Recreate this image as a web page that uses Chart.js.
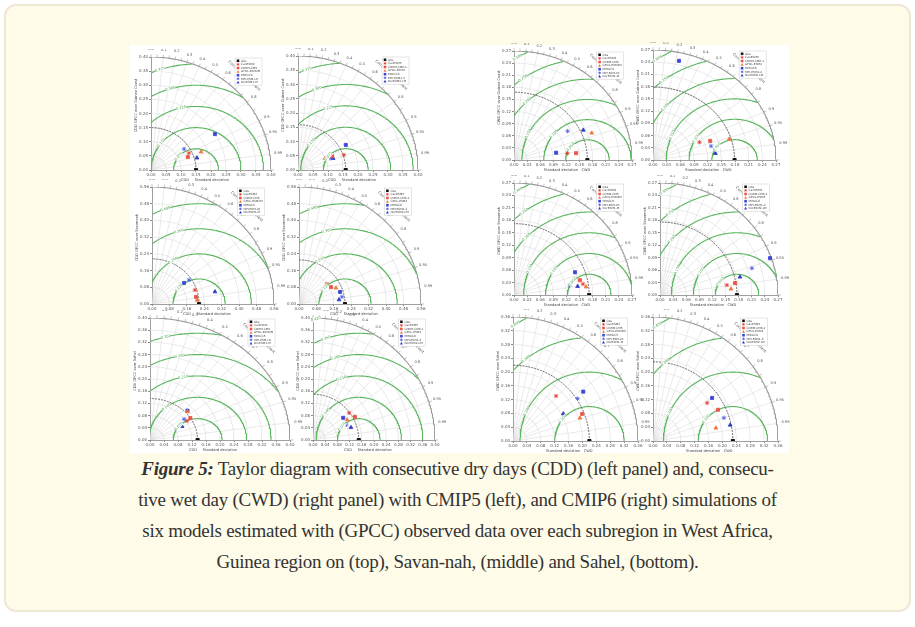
<!DOCTYPE html>
<html>
<head>
<meta charset="utf-8">
<script src="https://cdn.jsdelivr.net/npm/chart.js@4.4.1/dist/chart.umd.min.js"></script>
<style>
    html, body { margin: 0; padding: 0; background: #fff; }
    #card { position: absolute; left: 4px; top: 4px; width: 907px; height: 608px; box-sizing: border-box;
            border: 2px solid #eee8d2; border-radius: 12px; background: #fffbe9; }
    #fig { position: absolute; left: 130px; top: 45px; width: 659px; height: 408px; background: #fff; }
    canvas { position: absolute; }
    #caption { position: absolute; left: 0; top: 453px; width: 915px; text-align: center; white-space: nowrap;
               font-family: "Liberation Serif", serif; font-size: 19px; letter-spacing: -0.25px;
               line-height: 31px; color: #333; }
</style>
</head>
<body>
<div id="card"></div>
<div id="fig"></div>
<div id="caption">
    <b><i>Figure 5:</i></b> Taylor diagram with consecutive dry days (CDD) (left panel) and, consecu-<br>
    tive wet day (CWD) (right panel) with CMIP5 (left), and CMIP6 (right) simulations of<br>
    six models estimated with (GPCC) observed data over each subregion in West Africa,<br>
    Guinea region on (top), Savan-nah, (middle) and Sahel, (bottom).
</div>
<script>
// models and markers
const cmip5Models = ['CanESM2', 'CNRM-CM5', 'GFDL-ESM2M', 'MIROC5', 'MPI-ESM-LR', 'NorESM1-M'];
const cmip6Models = ['CanESM5', 'CNRM-CM6-1', 'GFDL-ESM4', 'MIROC6', 'MPI-ESM1-2', 'NorESM2-LM'];
const modelColors = ['#e3372d', '#ec5346', '#f0763a', '#3b45d6', '#4d5ce6', '#2b3bc4'];
const modelMarkers = ['star', 'rect', 'triangle', 'rect', 'star', 'triangle'];
const corrTicks = [0.1, 0.2, 0.3, 0.4, 0.5, 0.6, 0.7, 0.8, 0.9, 0.95, 0.99];
const corrLabels = [0, 0.1, 0.2, 0.3, 0.4, 0.5, 0.6, 0.7, 0.8, 0.9, 0.95, 0.99];

// CDD - standard deviation and correlation of each model
const cddGuinea5Std = [0.140, 0.131, 0.179, 0.248, 0.133, 0.159];
const cddGuinea5Corr = [0.904, 0.937, 0.933, 0.859, 0.830, 0.963];
const cddGuinea6Std = [0.162, 0.124, 0.099, 0.182, 0.117, 0.124];
const cddGuinea6Corr = [0.945, 0.919, 0.910, 0.875, 0.937, 0.944];
const cddSavanna5Std = [0.208, 0.205, 0.208, 0.178, 0.205, 0.295];
const cddSavanna5Corr = [0.947, 0.986, 0.996, 0.826, 0.829, 0.980];
const cddSavanna6Std = [0.160, 0.168, 0.186, 0.197, 0.200, 0.185];
const cddSavanna6Corr = [0.800, 0.876, 0.911, 0.956, 0.985, 0.994];
const cddSahel5Std = [0.123, 0.136, 0.142, 0.144, 0.119, 0.102];
const cddSahel5Corr = [0.860, 0.848, 0.755, 0.744, 0.820, 0.900];
const cddSahel6Std = [0.148, 0.157, 0.130, 0.123, 0.120, 0.131];
const cddSahel6Corr = [0.800, 0.875, 0.860, 0.806, 0.910, 0.950];

// CWD
const cwdGuinea5Std = [0.123, 0.143, 0.190, 0.098, 0.142, 0.175];
const cwdGuinea5Corr = [0.991, 0.993, 0.936, 0.983, 0.864, 0.906];
const cwdGuinea6Std = [0.111, 0.134, 0.175, 0.250, 0.132, 0.138];
const cwdGuinea6Corr = [0.920, 0.937, 0.956, 0.228, 0.966, 0.993];
const cwdSavanna5Std = [0.160, 0.155, 0.166, 0.150, 0.130, 0.147];
const cwdSavanna5Corr = [0.986, 0.973, 0.993, 0.931, 0.983, 0.990];
const cwdSavanna6Std = [0.155, 0.174, 0.163, 0.267, 0.220, 0.188];
const cwdSavanna6Corr = [0.988, 0.986, 0.996, 0.943, 0.956, 0.973];
const cwdSahel5Std = [0.180, 0.214, 0.204, 0.248, 0.223, 0.165];
const cwdSahel5Corr = [0.688, 0.930, 0.945, 0.816, 0.834, 0.878];
const cwdSahel6Std = [0.191, 0.208, 0.185, 0.211, 0.215, 0.227];
const cwdSahel6Corr = [0.816, 0.900, 0.979, 0.806, 0.950, 0.979];

// per panel: observed std, axis max, tick step, rmsd step
const obsStd = [0.150, 0.159, 0.216, 0.211, 0.136, 0.150, 0.168, 0.179, 0.172, 0.176, 0.220, 0.230];
const axisMax = [0.40, 0.40, 0.56, 0.56, 0.40, 0.40, 0.27, 0.27, 0.27, 0.27, 0.36, 0.36];
const tickStep = [0.05, 0.05, 0.08, 0.08, 0.04, 0.04, 0.03, 0.03, 0.03, 0.03, 0.04, 0.04];
const rmsStep = [0.075, 0.075, 0.12, 0.12, 0.07, 0.07, 0.05, 0.05, 0.05, 0.05, 0.1, 0.1];

const stdSets = [cddGuinea5Std, cddGuinea6Std, cddSavanna5Std, cddSavanna6Std, cddSahel5Std, cddSahel6Std,
                 cwdGuinea5Std, cwdGuinea6Std, cwdSavanna5Std, cwdSavanna6Std, cwdSahel5Std, cwdSahel6Std];
const corrSets = [cddGuinea5Corr, cddGuinea6Corr, cddSavanna5Corr, cddSavanna6Corr, cddSahel5Corr, cddSahel6Corr,
                  cwdGuinea5Corr, cwdGuinea6Corr, cwdSavanna5Corr, cwdSavanna6Corr, cwdSahel5Corr, cwdSahel6Corr];
const regionNames = ['Guinea Coast', 'Guinea Coast', 'Savannah', 'Savannah', 'Sahel', 'Sahel',
                     'Guinea Coast', 'Guinea Coast', 'Savannah', 'Savannah', 'Sahel', 'Sahel'];

// layout: origin x, origin y, plot width, plot height (page pixels)
const layout = [
    [151, 170, 120, 113], [298, 170, 120, 114],
    [152, 304, 122, 117], [299, 304, 122, 117],
    [150, 440, 140, 122], [313, 440, 122, 122],
    [514, 160, 118, 109], [653, 160, 123, 110],
    [514, 295, 118, 112], [660, 295, 118, 112],
    [513, 441, 125, 124], [653, 441, 125, 124]
];

const AXIS_W = 18, AXIS_H = 13, PAD_T = 8, PAD_R = 14;

function toXY(s, c) {
    return { x: s * c, y: s * Math.sqrt(1 - c * c) };
}

function arcPoints(cx, r, max) {
    const pts = [];
    for (let i = 0; i <= 240; i++) {
        const t = Math.PI * i / 240;
        const x = cx + r * Math.cos(t), y = r * Math.sin(t);
        if (x >= -1e-9 && x * x + y * y <= max * max * 1.0001) pts.push({ x, y });
    }
    return pts;
}

function line(data, color, width, dash) {
    return { data, showLine: true, pointRadius: 0, borderColor: color, borderWidth: width,
             borderDash: dash || [], fill: false, tension: 0 };
}

function drawMarker(ctx, style, x, y, r, color) {
    ctx.fillStyle = color;
    ctx.strokeStyle = color;
    ctx.lineWidth = 0.7;
    ctx.beginPath();
    if (style === 'rect') {
        ctx.fillRect(x - r, y - r, 2 * r, 2 * r);
    } else if (style === 'triangle') {
        ctx.moveTo(x, y - r * 1.2);
        ctx.lineTo(x + r * 1.1, y + r * 0.8);
        ctx.lineTo(x - r * 1.1, y + r * 0.8);
        ctx.closePath();
        ctx.fill();
    } else {
        for (let k = 0; k < 4; k++) {
            const a = k * Math.PI / 4;
            ctx.moveTo(x - r * Math.cos(a), y - r * Math.sin(a));
            ctx.lineTo(x + r * Math.cos(a), y + r * Math.sin(a));
        }
        ctx.stroke();
    }
}

function makePanel(i) {
    const [ox, oy, rx, ry] = layout[i];
    const max = axisMax[i], obs = obsStd[i];
    const isCdd = i < 6;
    const models = (i % 2 === 0) ? cmip5Models : cmip6Models;
    const varName = isCdd ? 'CDD' : 'CWD';

    const canvas = document.createElement('canvas');
    canvas.width = AXIS_W + rx + PAD_R;
    canvas.height = PAD_T + ry + AXIS_H;
    canvas.style.left = (ox - AXIS_W) + 'px';
    canvas.style.top = (oy - ry - PAD_T) + 'px';
    document.body.appendChild(canvas);

    const datasets = [];
    // model points
    stdSets[i].forEach((s, m) => {
        datasets.push({ data: [toXY(s, corrSets[i][m])], pointStyle: modelMarkers[m], pointRadius: 2.2,
                        backgroundColor: modelColors[m], borderColor: modelColors[m], borderWidth: 0.8 });
    });
    datasets.push({ data: [{ x: obs, y: 0 }], pointStyle: 'rect', pointRadius: 2.2,
                    backgroundColor: '#111', borderColor: '#111' });

    // observed std arc
    datasets.push(line(arcPoints(0, obs, max), '#555', 0.9, [2, 1]));
    // rmsd arcs
    const rmsArcs = [];
    for (let k = 1; k * rmsStep[i] < max + obs; k++) {
        const pts = arcPoints(obs, k * rmsStep[i], max);
        if (pts.length > 2) {
            rmsArcs.push({ r: k * rmsStep[i], pts });
            datasets.push(line(pts, '#5cb65f', 1.1));
        }
    }
    // outer arc
    datasets.push(line(arcPoints(0, max, max), '#999', 1.1));
    // std grid arcs
    for (let s = tickStep[i]; s < max - 1e-6; s += tickStep[i]) {
        datasets.push(line(arcPoints(0, s, max), '#dcdcdc', 0.6));
    }
    // correlation rays
    corrTicks.forEach(c => {
        datasets.push(line([{ x: 0, y: 0 }, toXY(max, c)], '#dcdcdc', 0.6));
    });

    const tickFont = { size: 4, family: 'DejaVu Sans' };

    const taylorText = {
        id: 'taylorText',
        afterDraw(chart) {
            const ctx = chart.ctx;
            const xs = chart.scales.x, ys = chart.scales.y;
            const P = (x, y) => [xs.getPixelForValue(x), ys.getPixelForValue(y)];
            const area = chart.chartArea;
            ctx.save();
            // ticks and labels on the outer arc
            ctx.strokeStyle = '#999';
            ctx.lineWidth = 0.6;
            for (let c = 0; c <= 1.0001; c += 0.05) {
                const a = toXY(max, Math.min(c, 1)), b = toXY(max * 1.025, Math.min(c, 1));
                const [x1, y1] = P(a.x, a.y), [x2, y2] = P(b.x, b.y);
                ctx.beginPath(); ctx.moveTo(x1, y1); ctx.lineTo(x2, y2); ctx.stroke();
            }
            ctx.fillStyle = '#555';
            ctx.font = '3.6px DejaVu Sans';
            ctx.textAlign = 'center';
            ctx.textBaseline = 'middle';
            corrLabels.forEach(c => {
                const p = toXY(max * 1.07, c);
                const [x, y] = P(p.x, p.y);
                ctx.fillText(c === 0 ? '0.0' : String(c), x, y);
            });
            // correlation title along the arc
            const th = 47 * Math.PI / 180;
            const tp = P(max * 1.14 * Math.cos(th), max * 1.14 * Math.sin(th));
            ctx.save();
            ctx.translate(tp[0], tp[1]);
            ctx.rotate(Math.PI / 2 - th);
            ctx.font = '3.8px DejaVu Sans';
            ctx.fillText('Correlation Coefficient', 0, 0);
            ctx.restore();

            // rmsd labels
            ctx.fillStyle = '#4aa34d';
            ctx.font = '3.6px DejaVu Sans';
            rmsArcs.forEach(arc => {
                const n = arc.pts.length;
                const k = Math.min(n - 2, Math.max(1, Math.floor(n * 0.78)));
                const [x, y] = P(arc.pts[k].x, arc.pts[k].y);
                const [x1, y1] = P(arc.pts[k - 1].x, arc.pts[k - 1].y);
                const [x2, y2] = P(arc.pts[k + 1].x, arc.pts[k + 1].y);
                let a = Math.atan2(y2 - y1, x2 - x1);
                if (a > Math.PI / 2) a -= Math.PI;
                if (a < -Math.PI / 2) a += Math.PI;
                ctx.save();
                ctx.translate(x, y);
                ctx.rotate(a);
                ctx.fillStyle = '#fff';
                ctx.fillRect(-5, -2, 10, 4);
                ctx.fillStyle = '#4aa34d';
                ctx.fillText(arc.r.toFixed(3), 0, 0);
                ctx.restore();
            });

            // axis titles
            ctx.fillStyle = '#444';
            ctx.font = '3.6px DejaVu Sans';
            ctx.fillText(isCdd ? varName + '     Standard deviation' : 'Standard deviation   ' + varName,
                         area.left + (area.right - area.left) * 0.45, area.bottom + 10);
            ctx.save();
            ctx.translate(3, (area.top + area.bottom) / 2 - 8);
            ctx.rotate(-Math.PI / 2);
            ctx.fillText(varName + ' GPCC over ' + regionNames[i], 0, 0);
            ctx.restore();

            // legend
            const lx = area.left + (area.right - area.left) * 0.7, ly = area.top + 1;
            const names = ['Obs'].concat(models);
            ctx.fillStyle = '#fff';
            ctx.fillRect(lx, ly, 27, names.length * 3.6 + 2);
            ctx.strokeStyle = '#ccc';
            ctx.lineWidth = 0.5;
            ctx.strokeRect(lx, ly, 27, names.length * 3.6 + 2);
            ctx.font = '2.9px DejaVu Sans';
            ctx.textAlign = 'left';
            names.forEach((nm, k) => {
                const yy = ly + 2.8 + k * 3.6;
                if (k === 0) drawMarker(ctx, 'rect', lx + 3, yy, 1.3, '#111');
                else drawMarker(ctx, modelMarkers[k - 1], lx + 3, yy, 1.3, modelColors[k - 1]);
                ctx.fillStyle = '#444';
                ctx.fillText(nm, lx + 6, yy);
            });
            ctx.restore();
        }
    };

    new Chart(canvas, {
        type: 'scatter',
        data: { datasets },
        options: {
            responsive: false,
            animation: false,
            devicePixelRatio: 1,
            layout: { padding: { top: PAD_T, right: PAD_R, left: 0, bottom: 0 } },
            plugins: { legend: { display: false }, tooltip: { enabled: false } },
            scales: {
                x: {
                    type: 'linear', min: 0, max: max,
                    afterFit(scale) { scale.height = AXIS_H; },
                    ticks: { stepSize: tickStep[i], font: tickFont, color: '#555', padding: 1, maxRotation: 0,
                             autoSkip: false, callback: v => v.toFixed(2) },
                    grid: { drawOnChartArea: false, tickLength: 2, color: '#888' },
                    border: { color: '#888', width: 0.8 }
                },
                y: {
                    type: 'linear', min: 0, max: max,
                    afterFit(scale) { scale.width = AXIS_W; },
                    ticks: { stepSize: tickStep[i], font: tickFont, color: '#555', padding: 1,
                             autoSkip: false, callback: v => v.toFixed(2) },
                    grid: { drawOnChartArea: false, tickLength: 2, color: '#888' },
                    border: { color: '#888', width: 0.8 }
                }
            }
        },
        plugins: [taylorText]
    });
}

for (let i = 0; i < 12; i++) makePanel(i);
</script>
</body>
</html>
